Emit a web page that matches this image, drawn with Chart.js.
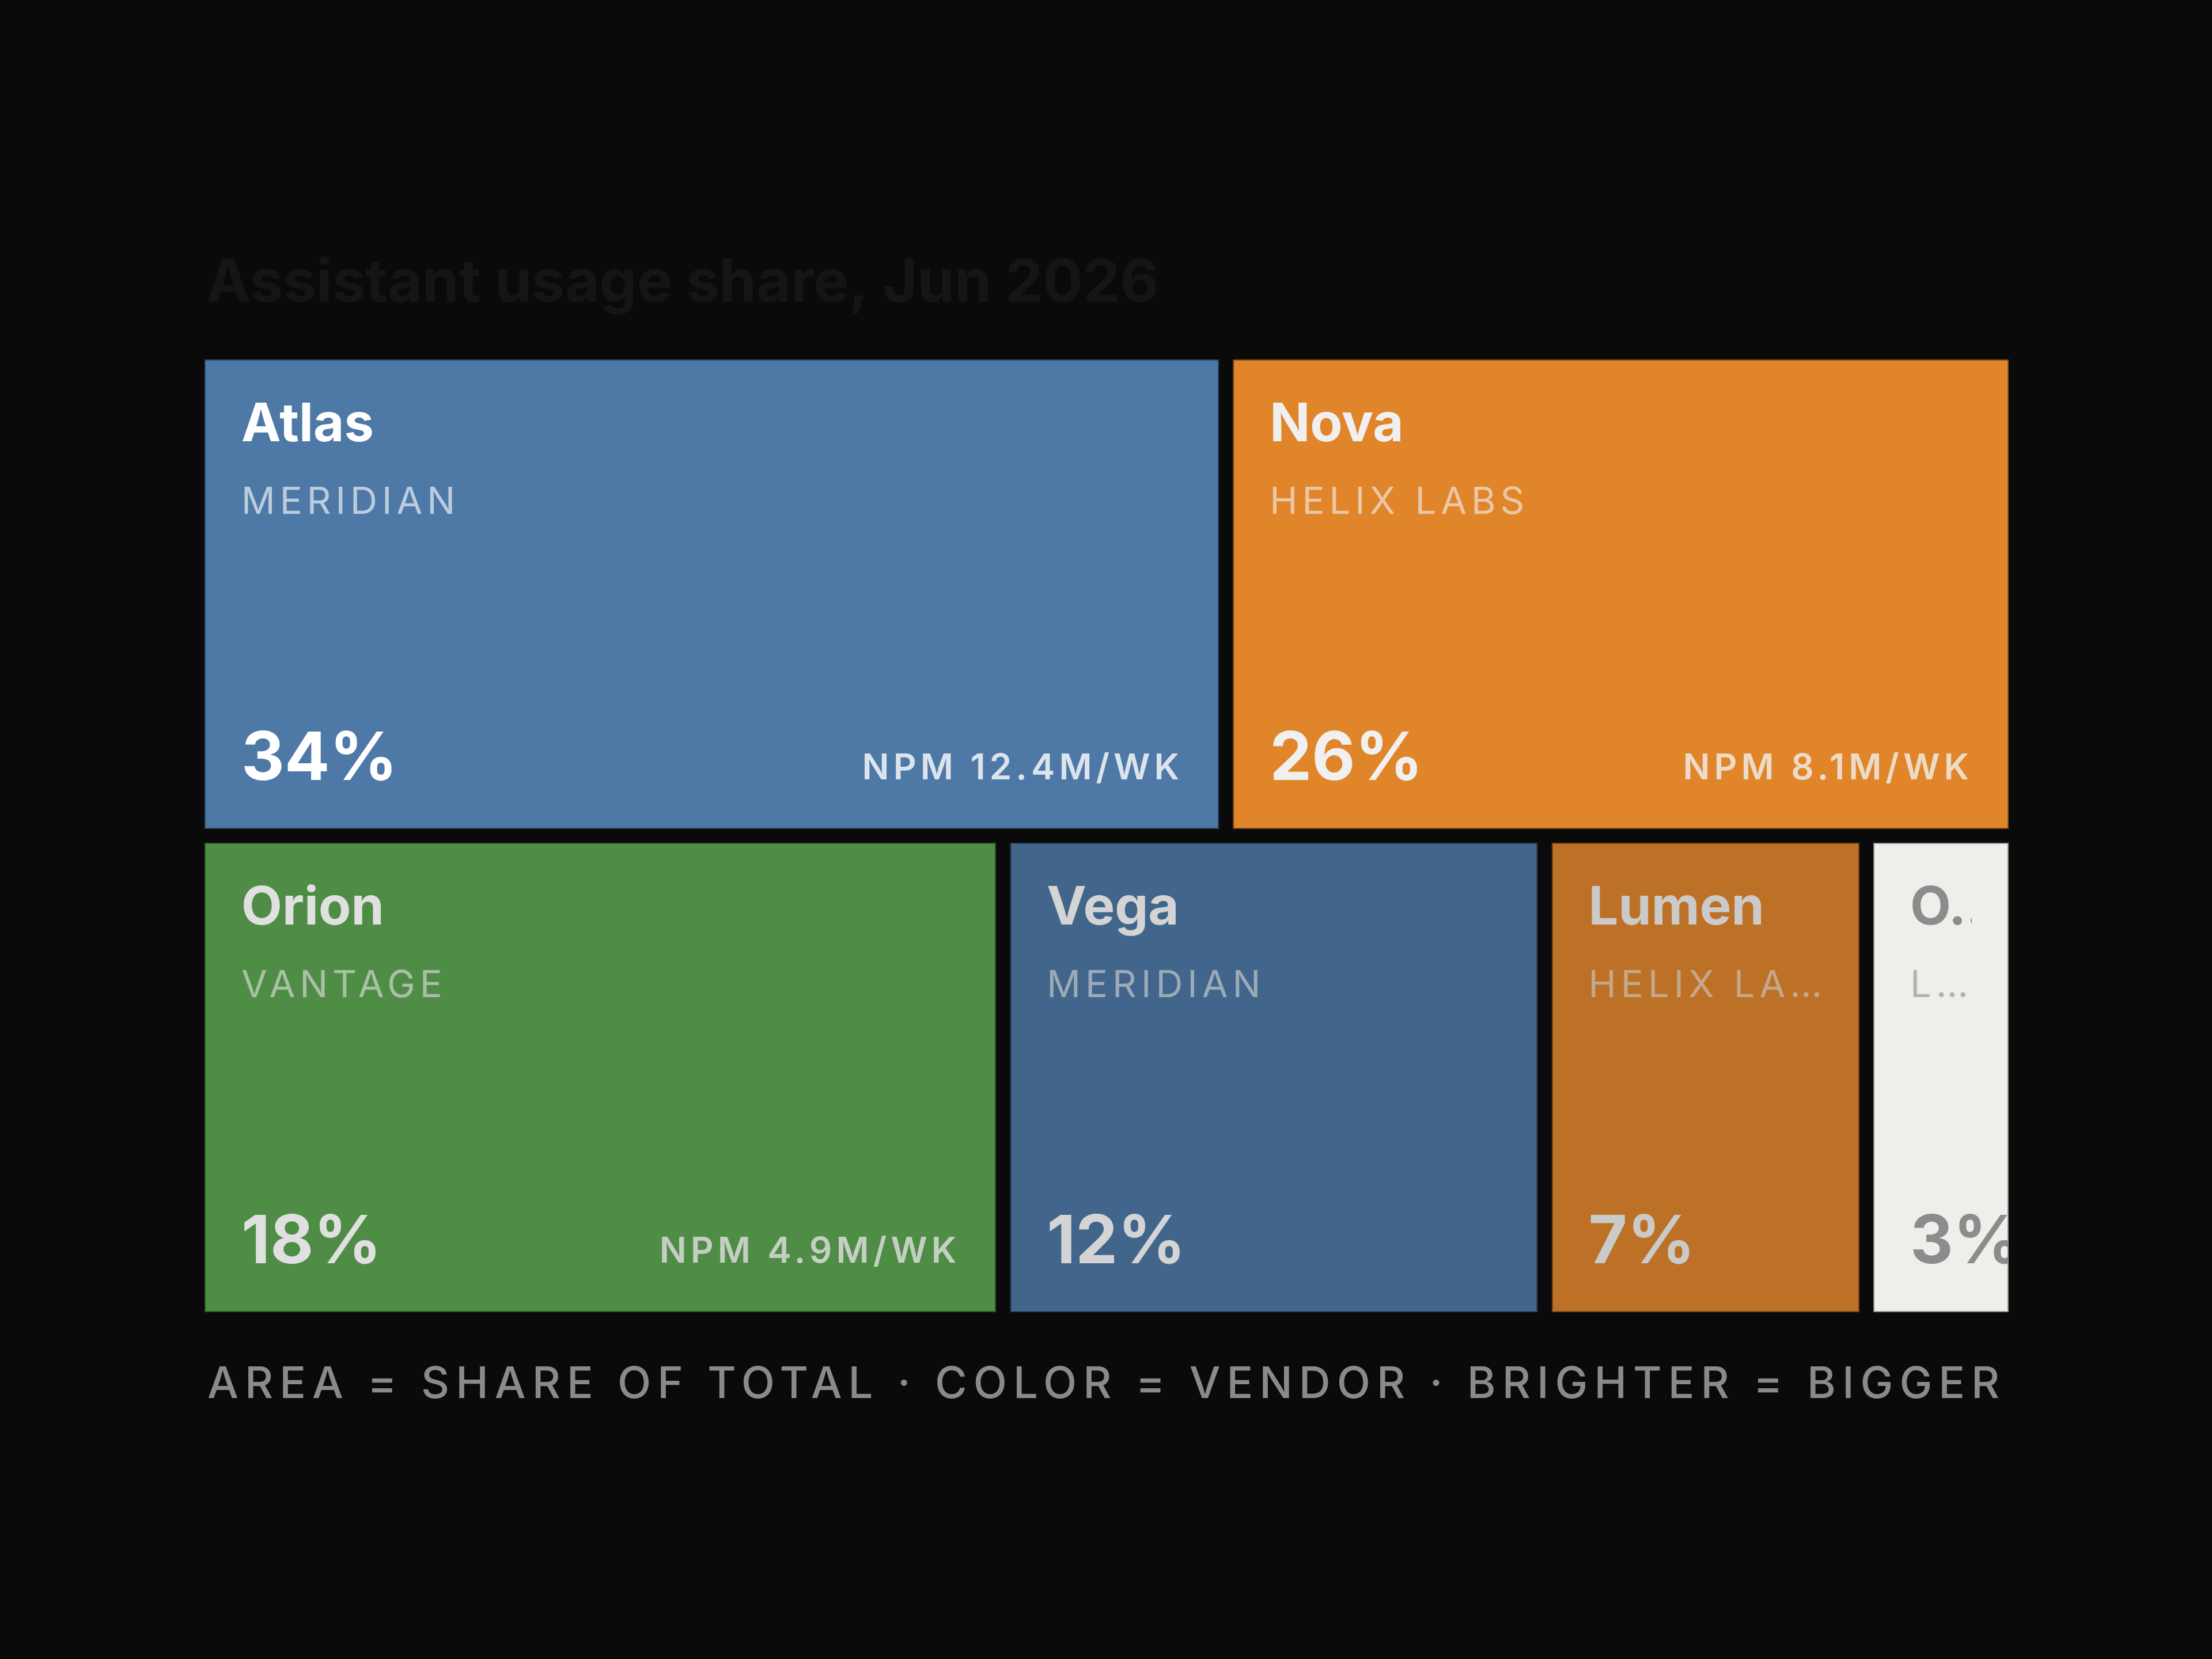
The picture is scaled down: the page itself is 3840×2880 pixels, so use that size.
<!DOCTYPE html>
<html>
<head>
<meta charset="utf-8">
<script src="https://cdn.jsdelivr.net/npm/chart.js@4.4.1/dist/chart.umd.min.js"></script>
<style>
  html, body { margin: 0; padding: 0; background: #0a0a0a; }
  canvas { display: block; }
</style>
</head>
<body>
<canvas id="canvas" width="3840" height="2880"></canvas>
<script>
// data
let title = 'Assistant usage share, Jun 2026';
let footnote = 'AREA = SHARE OF TOTAL · COLOR = VENDOR · BRIGHTER = BIGGER';
let assistants = ['Atlas', 'Nova', 'Orion', 'Vega', 'Lumen', 'Other'];
let vendors = ['Meridian', 'Helix Labs', 'Vantage', 'Meridian', 'Helix Labs', 'Long tail'];
let shares = [34, 26, 18, 12, 7, 3];
let npmWeekly = ['12.4M', '8.1M', '4.9M', null, null, null];

// look
let fills = ['#4e79a7', '#e1852a', '#4f8c46', '#42668b', '#bd7126', '#efeeea'];
let inks = ['#ffffff', '#f0f0f0', '#e0e0e0', '#d4d4d4', '#cacaca', '#8c8c8c'];
let LEFT = 355, RIGHT = 3487, TOP = 624, BOTTOM = 2278, GAP = 24, PAD = 64;
let MIN_W = 235; // a cell never gets narrower than this (room for its share label)

// rows: fill the first row until it holds half of the total, the rest go below
let total = shares.reduce((a, b) => a + b, 0);
let rows = [[]];
let acc = 0;
shares.forEach((v, i) => {
  rows[rows.length - 1].push(i);
  acc += v;
  if (rows.length === 1 && acc >= total / 2 && i < shares.length - 1) rows.push([]);
});

// widths inside a row follow the shares, like flex-grow with a min width
let rowOf = [];
let spans = [];
let fullW = RIGHT - LEFT;
rows.forEach((row, r) => {
  let usable = fullW - (row.length - 1) * GAP;
  let fixed = {};
  let changed = true;
  while (changed) {
    changed = false;
    let freeIdx = row.filter(i => !(i in fixed));
    let freeSum = freeIdx.reduce((a, i) => a + shares[i], 0);
    let free = usable - Object.values(fixed).reduce((a, b) => a + b, 0);
    freeIdx.forEach(i => {
      if (!changed && shares[i] / freeSum * free < MIN_W) { fixed[i] = MIN_W; changed = true; }
    });
  }
  let freeIdx = row.filter(i => !(i in fixed));
  let freeSum = freeIdx.reduce((a, i) => a + shares[i], 0);
  let free = usable - Object.values(fixed).reduce((a, b) => a + b, 0);
  let x = 0;
  row.forEach(i => {
    let w = (i in fixed) ? fixed[i] : shares[i] / freeSum * free;
    rowOf[i] = r;
    spans[i] = [x / fullW * 100, (x + w) / fullW * 100];
    x += w + GAP;
  });
});

let rowLabels = rows.map((_, r) => 'row ' + (r + 1));
let slotH = (BOTTOM - TOP + GAP) / rows.length;

function shade(hex, k) {
  let n = parseInt(hex.slice(1), 16);
  let c = [(n >> 16), (n >> 8) & 255, n & 255].map(v => Math.round(v * k));
  return 'rgb(' + c.join(',') + ')';
}

function withAlpha(hex, a) {
  let n = parseInt(hex.slice(1), 16);
  return 'rgba(' + (n >> 16) + ',' + ((n >> 8) & 255) + ',' + (n & 255) + ',' + a + ')';
}

let datasets = assistants.map((name, i) => ({
  label: name,
  data: rowLabels.map((_, r) => r === rowOf[i] ? spans[i] : null),
  backgroundColor: fills[i],
  borderColor: shade(fills[i], i === 5 ? 0.58 : 0.6),
  borderWidth: 2,
  borderSkipped: false,
  inflateAmount: 0,
  grouped: false,
  categoryPercentage: 1,
  barPercentage: (slotH - GAP) / slotH
}));

function fit(ctx, text, maxW) {
  if (ctx.measureText(text).width <= maxW) return text;
  let t = text;
  while (t.length > 1 && ctx.measureText(t + '…').width > maxW) t = t.slice(0, -1);
  return t.trimEnd() + '…';
}

let cellLabels = {
  id: 'cellLabels',
  afterDatasetsDraw(chart) {
    let ctx = chart.ctx;
    assistants.forEach((name, i) => {
      let el = chart.getDatasetMeta(i).data[rowOf[i]];
      if (!el) return;
      let p = el.getProps(['x', 'y', 'base', 'height'], true);
      let left = Math.min(p.x, p.base), right = Math.max(p.x, p.base);
      let top = p.y - p.height / 2, bottom = p.y + p.height / 2;
      let innerW = right - left - 2 * PAD;

      ctx.save();
      ctx.beginPath();
      ctx.rect(left, top, right - left, bottom - top);
      ctx.clip();
      ctx.textAlign = 'left';
      ctx.textBaseline = 'alphabetic';

      // name + vendor, kept inside the padding
      ctx.save();
      ctx.beginPath();
      ctx.rect(left + PAD, top, Math.max(innerW, 0), bottom - top);
      ctx.clip();
      ctx.fillStyle = inks[i];
      ctx.font = '700 92px Inter';
      ctx.letterSpacing = '0px';
      ctx.fillText(fit(ctx, name, innerW), left + PAD, top + 142);
      ctx.fillStyle = withAlpha(inks[i], 0.62);
      ctx.font = '400 65px Inter';
      ctx.letterSpacing = '8px';
      ctx.fillText(fit(ctx, vendors[i].toUpperCase(), innerW + 8), left + PAD, top + 268);
      ctx.restore();

      // share
      ctx.fillStyle = inks[i];
      ctx.font = '700 116px Inter';
      ctx.letterSpacing = '0px';
      ctx.fillText(shares[i] + '%', left + PAD, bottom - 85);

      // weekly downloads
      if (npmWeekly[i]) {
        ctx.font = '600 62px Inter';
        ctx.letterSpacing = '7px';
        ctx.textAlign = 'right';
        ctx.fillStyle = withAlpha(inks[i], 0.8);
        ctx.fillText('NPM ' + npmWeekly[i] + '/WK', right - 62, bottom - 86);
      }
      ctx.restore();
    });

    ctx.save();
    ctx.textAlign = 'left';
    ctx.textBaseline = 'alphabetic';
    ctx.fillStyle = '#151515';
    ctx.font = '700 103px Inter';
    ctx.letterSpacing = '0px';
    ctx.fillText(title, 358, 524);
    ctx.fillStyle = '#8a8a8a';
    ctx.font = '500 76px Inter';
    ctx.letterSpacing = '11px';
    ctx.fillText(footnote, 360, 2427);
    ctx.restore();
  }
};

let fontsReady = Promise.all([
  document.fonts.load('700 92px Inter'),
  document.fonts.load('600 62px Inter'),
  document.fonts.load('500 76px Inter'),
  document.fonts.load('400 65px Inter')
]).catch(() => null);

fontsReady.then(() => {
  let context = document.getElementById('canvas').getContext('2d');
  new Chart(context, {
    type: 'bar',
    data: { labels: rowLabels, datasets: datasets },
    options: {
      indexAxis: 'y',
      responsive: false,
      devicePixelRatio: 1,
      animation: false,
      layout: {
        padding: {
          left: LEFT,
          right: 3840 - RIGHT,
          top: TOP - GAP / 2,
          bottom: 2880 - BOTTOM - GAP / 2
        }
      },
      scales: {
        x: { type: 'linear', min: 0, max: 100, display: false },
        y: { type: 'category', display: false }
      },
      plugins: {
        legend: { display: false },
        tooltip: { enabled: false },
        title: { display: false }
      }
    },
    plugins: [cellLabels]
  });
});
</script>
</body>
</html>
